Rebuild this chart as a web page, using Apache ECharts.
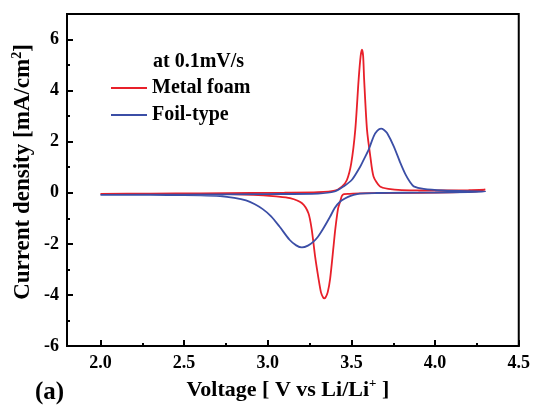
<!DOCTYPE html>
<html>
<head>
<meta charset="utf-8">
<script src="https://cdn.jsdelivr.net/npm/echarts@6/dist/echarts.min.js"></script>
<style>
html,body{margin:0;padding:0;background:#fff;}
#chart{width:533px;height:406px;}
</style>
</head>
<body>
<div id="chart"></div>
<script>
// ---- data ----
const seriesNames = ['Metal foam', 'Foil-type'];
const noteText = 'at 0.1mV/s';
const panelLabel = '(a)';
const xTickValues = [2.0, 2.5, 3.0, 3.5, 4.0, 4.5];
const xMinorTickValues = [2.25, 2.75, 3.25, 3.75, 4.25];
const yTickValues = [-6, -4, -2, 0, 2, 4, 6];
const yMinorTickValues = [-5, -3, -1, 1, 3, 5];

// Metal foam: forward sweep 2.0 -> 4.3 V then reverse sweep 4.3 -> 2.0 V
const metalFoamVoltage = [
  2.0, 2.3, 2.6, 2.9, 3.1, 3.3, 3.4, 3.443, 3.473, 3.499, 3.523, 3.543, 3.555, 3.563, 3.57, 3.576,
  3.593, 3.613, 3.632, 3.67, 3.72, 3.8, 4.0, 4.2, 4.3,
  4.25, 4.1, 3.9, 3.7, 3.55, 3.49, 3.455, 3.443, 3.433, 3.42, 3.403, 3.393, 3.373, 3.358, 3.345, 3.338,
  3.331, 3.318, 3.303, 3.283, 3.263, 3.243, 3.203, 3.133, 3.05, 2.973, 2.774, 2.5, 2.2, 2.0
];
const metalFoamCurrent = [
  -0.04, -0.03, -0.02, -0.01, 0.0, 0.02, 0.08, 0.24, 0.5, 1.16, 2.47, 4.43, 5.35, 5.6, 5.35, 4.43,
  2.47, 1.42, 0.64, 0.25, 0.15, 0.1, 0.09, 0.1, 0.12,
  0.06, 0.02, 0.0, -0.01, -0.02, -0.04, -0.05, -0.12, -0.34, -0.62, -1.45, -2.1, -3.35, -3.9, -4.1, -4.13,
  -4.1, -3.9, -3.35, -2.5, -1.45, -0.8, -0.4, -0.21, -0.14, -0.1, -0.05, -0.04, -0.04, -0.04
];

// Foil-type: forward sweep then reverse sweep
const foilVoltage = [
  2.0, 2.5, 3.0, 3.3, 3.4, 3.453, 3.503, 3.553, 3.573, 3.603, 3.633, 3.655, 3.677, 3.695, 3.713,
  3.753, 3.793, 3.823, 3.852, 3.872, 3.932, 4.05, 4.2, 4.3,
  4.2, 4.0, 3.8, 3.65, 3.55, 3.513, 3.48, 3.433, 3.4, 3.373, 3.33, 3.3, 3.273, 3.24, 3.204, 3.17,
  3.13, 3.07, 3.02, 2.97, 2.92, 2.87, 2.8, 2.715, 2.6, 2.4, 2.2, 2.0
];
const foilCurrent = [
  -0.08, -0.07, -0.05, -0.03, 0.05, 0.25, 0.51, 1.03, 1.29, 1.69, 2.21, 2.43, 2.51, 2.46, 2.34,
  1.82, 1.16, 0.72, 0.4, 0.25, 0.15, 0.09, 0.06, 0.05,
  0.03, 0.01, 0.0, -0.01, -0.03, -0.08, -0.16, -0.34, -0.6, -0.93, -1.42, -1.72, -1.91, -2.07, -2.14, -2.06,
  -1.84, -1.32, -0.92, -0.64, -0.44, -0.3, -0.2, -0.13, -0.1, -0.09, -0.08, -0.08
];

// ---- chart ----
const FONT = '"Liberation Serif", "Times New Roman", serif';
const zip = (a, b) => a.map((v, i) => [v, b[i]]);

const chart = echarts.init(document.getElementById('chart'), null, {renderer: 'canvas'});

const baseX = {
  type: 'value', min: 1.8, max: 4.5, position: 'bottom',
  splitLine: {show: false}
};
const baseY = {
  type: 'value', min: -6, max: 7, position: 'left',
  splitLine: {show: false}
};
const makeRich = (size, supSize) => ({
  a: {fontFamily: FONT, fontWeight: 'bold', fontSize: size, color: '#000', lineHeight: size + 4},
  s: {fontFamily: FONT, fontWeight: 'bold', fontSize: supSize, color: '#000', lineHeight: supSize, verticalAlign: 'top'}
});

chart.setOption({
  animation: false,
  backgroundColor: '#fff',
  grid: {left: 67, right: 14, top: 14, bottom: 60, show: true, borderColor: '#000', borderWidth: 2},
  title: {
    text: noteText, left: 153, top: 52, padding: 0,
    textStyle: {fontFamily: FONT, fontWeight: 'bold', fontSize: 20, color: '#000'}
  },
  legend: {
    data: seriesNames, orient: 'vertical', left: 111, top: 78, padding: 0,
    icon: 'path://M0,0 H36 V2 H0 Z',
    itemWidth: 36, itemHeight: 14, itemGap: 7,
    textStyle: {fontFamily: FONT, fontWeight: 'bold', fontSize: 20, color: '#000', lineHeight: 14}
  },
  xAxis: [
    Object.assign({}, baseX, {
      axisLine: {show: true, onZero: false, lineStyle: {color: '#000', width: 2}},
      axisTick: {show: true, inside: true, length: 6, customValues: xTickValues, lineStyle: {color: '#000', width: 2}},
      axisLabel: {show: true, customValues: xTickValues, margin: 8, formatter: v => v.toFixed(1),
        fontFamily: FONT, fontWeight: 'bold', fontSize: 18, color: '#000'},
      name: '{a|Voltage [ V vs Li/Li}{s|+}{a| ]}',
      nameLocation: 'middle', nameGap: 30,
      nameTextStyle: {rich: makeRich(22, 13), padding: [0, 10, 0, 0]}
    }),
    Object.assign({}, baseX, {
      axisLine: {show: false, onZero: false},
      axisTick: {show: true, inside: true, length: 3, customValues: xMinorTickValues, lineStyle: {color: '#000', width: 2}},
      axisLabel: {show: false}
    })
  ],
  yAxis: [
    Object.assign({}, baseY, {
      axisLine: {show: true, onZero: false, lineStyle: {color: '#000', width: 2}},
      axisTick: {show: true, inside: true, length: 6, customValues: yTickValues, lineStyle: {color: '#000', width: 2}},
      axisLabel: {show: true, customValues: yTickValues, margin: 8,
        fontFamily: FONT, fontWeight: 'bold', fontSize: 18, color: '#000'},
      name: '{a|Current density [mA/cm}{s|2}{a|]}',
      nameLocation: 'middle', nameGap: 30, nameRotate: 90, nameMoveOverlap: false,
      nameTextStyle: {rich: makeRich(23, 14), padding: [0, 0, 0, 16]}
    }),
    Object.assign({}, baseY, {
      axisLine: {show: false, onZero: false},
      axisTick: {show: true, inside: true, length: 3, customValues: yMinorTickValues, lineStyle: {color: '#000', width: 2}},
      axisLabel: {show: false}
    })
  ],
  graphic: [{
    type: 'text', left: 35, top: 380,
    style: {text: panelLabel, font: 'bold 25px ' + FONT, fill: '#000'}
  }],
  series: [
    {
      name: seriesNames[0], type: 'line', xAxisIndex: 0, yAxisIndex: 0,
      data: zip(metalFoamVoltage, metalFoamCurrent),
      symbol: 'none', smooth: 0.25, color: '#e8202a',
      lineStyle: {color: '#e8202a', width: 1.8}
    },
    {
      name: seriesNames[1], type: 'line', xAxisIndex: 0, yAxisIndex: 0,
      data: zip(foilVoltage, foilCurrent),
      symbol: 'none', smooth: 0.25, color: '#3b4ea6',
      lineStyle: {color: '#3b4ea6', width: 1.8}
    }
  ]
});
</script>
</body>
</html>
